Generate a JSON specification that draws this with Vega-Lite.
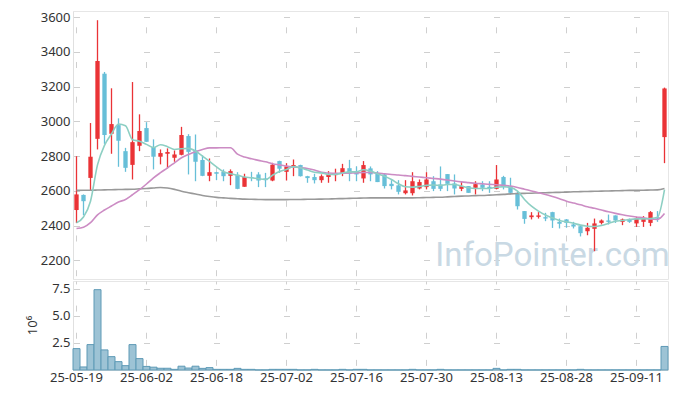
{
  "$schema": "https://vega.github.io/schema/vega-lite/v6.json",
  "autosize": {"type": "pad"},
  "padding": {"left": 25, "top": 10, "right": 10, "bottom": 13},
  "background": "white",
  "spacing": 0,
  "config": {
    "view": {"stroke": "#e6e6e6"},
    "font": "Noto Sans",
    "axis": {"labelFont": "Noto Sans", "labelFontSize": 13, "labelColor": "#333333", "titleFont": "Noto Sans", "labelOverlap": false}
  },
  "datasets": {
    "k": [
      {"d":"25-05-19","o":2490,"h":2800,"l":2415,"c":2580,"v":1.97,"m5":2417,"m20":2384,"m60":2603},
      {"d":"25-05-20","o":2577,"h":2580,"l":2460,"c":2541,"v":0.28,"m5":2450,"m20":2391,"m60":2604},
      {"d":"25-05-21","o":2675,"h":2991,"l":2603,"c":2797,"v":2.34,"m5":2541,"m20":2417,"m60":2604},
      {"d":"25-05-22","o":2900,"h":3583,"l":2839,"c":3348,"v":7.4,"m5":2750,"m20":2462,"m60":2605},
      {"d":"25-05-23","o":3275,"h":3285,"l":2871,"c":2922,"v":1.85,"m5":2862,"m20":2490,"m60":2606},
      {"d":"25-05-26","o":2929,"h":3191,"l":2814,"c":2985,"v":1.23,"m5":2928,"m20":2513,"m60":2607},
      {"d":"25-05-27","o":2979,"h":3018,"l":2739,"c":2889,"v":0.77,"m5":2985,"m20":2536,"m60":2608},
      {"d":"25-05-28","o":2829,"h":2848,"l":2710,"c":2733,"v":0.40,"m5":2975,"m20":2551,"m60":2609},
      {"d":"25-05-29","o":2750,"h":3227,"l":2666,"c":2881,"v":2.34,"m5":2895,"m20":2578,"m60":2610},
      {"d":"25-05-30","o":2860,"h":3041,"l":2829,"c":2945,"v":1.05,"m5":2886,"m20":2607,"m60":2612},
      {"d":"25-06-02","o":2962,"h":2996,"l":2883,"c":2883,"v":0.33,"m5":2868,"m20":2640,"m60":2614},
      {"d":"25-06-04","o":2852,"h":2897,"l":2724,"c":2797,"v":0.26,"m5":2850,"m20":2675,"m60":2617},
      {"d":"25-06-05","o":2797,"h":2839,"l":2753,"c":2818,"v":0.16,"m5":2866,"m20":2705,"m60":2620},
      {"d":"25-06-09","o":2814,"h":2845,"l":2730,"c":2824,"v":0.16,"m5":2855,"m20":2733,"m60":2617},
      {"d":"25-06-10","o":2791,"h":2833,"l":2768,"c":2810,"v":0.06,"m5":2839,"m20":2762,"m60":2609},
      {"d":"25-06-11","o":2808,"h":2969,"l":2805,"c":2922,"v":0.35,"m5":2843,"m20":2791,"m60":2598},
      {"d":"25-06-12","o":2916,"h":2927,"l":2695,"c":2825,"v":0.18,"m5":2845,"m20":2810,"m60":2590},
      {"d":"25-06-13","o":2833,"h":2925,"l":2656,"c":2768,"v":0.35,"m5":2830,"m20":2826,"m60":2582},
      {"d":"25-06-16","o":2778,"h":2805,"l":2685,"c":2687,"v":0.15,"m5":2800,"m20":2839,"m60":2574},
      {"d":"25-06-17","o":2687,"h":2787,"l":2656,"c":2708,"v":0.22,"m5":2770,"m20":2848,"m60":2568},
      {"d":"25-06-18","o":2708,"h":2710,"l":2662,"c":2699,"v":0.06,"m5":2738,"m20":2848,"m60":2563},
      {"d":"25-06-19","o":2710,"h":2724,"l":2656,"c":2685,"v":0.06,"m5":2710,"m20":2849,"m60":2560},
      {"d":"25-06-20","o":2687,"h":2724,"l":2633,"c":2714,"v":0.06,"m5":2699,"m20":2849,"m60":2557},
      {"d":"25-06-23","o":2691,"h":2708,"l":2610,"c":2612,"v":0.15,"m5":2691,"m20":2812,"m60":2555},
      {"d":"25-06-24","o":2624,"h":2699,"l":2624,"c":2680,"v":0.06,"m5":2680,"m20":2795,"m60":2553},
      {"d":"25-06-25","o":2680,"h":2710,"l":2656,"c":2676,"v":0.06,"m5":2676,"m20":2785,"m60":2552},
      {"d":"25-06-26","o":2695,"h":2708,"l":2622,"c":2660,"v":0.01,"m5":2670,"m20":2776,"m60":2551},
      {"d":"25-06-27","o":2672,"h":2704,"l":2622,"c":2662,"v":0.01,"m5":2666,"m20":2768,"m60":2550},
      {"d":"25-06-30","o":2660,"h":2762,"l":2656,"c":2751,"v":0.06,"m5":2690,"m20":2757,"m60":2550},
      {"d":"25-07-01","o":2772,"h":2774,"l":2704,"c":2728,"v":0.06,"m5":2712,"m20":2750,"m60":2550},
      {"d":"25-07-02","o":2710,"h":2760,"l":2660,"c":2741,"v":0.06,"m5":2724,"m20":2743,"m60":2550},
      {"d":"25-07-03","o":2739,"h":2781,"l":2685,"c":2749,"v":0.06,"m5":2740,"m20":2738,"m60":2551},
      {"d":"25-07-04","o":2749,"h":2751,"l":2683,"c":2685,"v":0.01,"m5":2733,"m20":2734,"m60":2551},
      {"d":"25-07-07","o":2685,"h":2687,"l":2647,"c":2674,"v":0.01,"m5":2720,"m20":2729,"m60":2552},
      {"d":"25-07-08","o":2680,"h":2699,"l":2643,"c":2662,"v":0.06,"m5":2708,"m20":2720,"m60":2552},
      {"d":"25-07-09","o":2662,"h":2695,"l":2647,"c":2685,"v":0.01,"m5":2704,"m20":2707,"m60":2553},
      {"d":"25-07-10","o":2680,"h":2714,"l":2647,"c":2697,"v":0.01,"m5":2695,"m20":2703,"m60":2554},
      {"d":"25-07-11","o":2691,"h":2728,"l":2656,"c":2703,"v":0.01,"m5":2695,"m20":2701,"m60":2555},
      {"d":"25-07-14","o":2699,"h":2756,"l":2685,"c":2731,"v":0.06,"m5":2703,"m20":2702,"m60":2556},
      {"d":"25-07-15","o":2731,"h":2779,"l":2656,"c":2699,"v":0.01,"m5":2710,"m20":2703,"m60":2557},
      {"d":"25-07-16","o":2710,"h":2741,"l":2656,"c":2695,"v":0.06,"m5":2710,"m20":2704,"m60":2558},
      {"d":"25-07-17","o":2672,"h":2772,"l":2647,"c":2749,"v":0.06,"m5":2722,"m20":2706,"m60":2559},
      {"d":"25-07-18","o":2730,"h":2741,"l":2656,"c":2695,"v":0.01,"m5":2714,"m20":2706,"m60":2560},
      {"d":"25-07-21","o":2703,"h":2714,"l":2651,"c":2651,"v":0.01,"m5":2699,"m20":2703,"m60":2560},
      {"d":"25-07-22","o":2695,"h":2699,"l":2614,"c":2628,"v":0.01,"m5":2685,"m20":2699,"m60":2560},
      {"d":"25-07-23","o":2641,"h":2662,"l":2609,"c":2628,"v":0.01,"m5":2666,"m20":2695,"m60":2560},
      {"d":"25-07-24","o":2632,"h":2662,"l":2580,"c":2595,"v":0.01,"m5":2641,"m20":2692,"m60":2560},
      {"d":"25-07-25","o":2587,"h":2662,"l":2580,"c":2603,"v":0.01,"m5":2624,"m20":2688,"m60":2560},
      {"d":"25-07-28","o":2587,"h":2708,"l":2574,"c":2656,"v":0.06,"m5":2622,"m20":2684,"m60":2560},
      {"d":"25-07-29","o":2614,"h":2666,"l":2609,"c":2651,"v":0.01,"m5":2626,"m20":2680,"m60":2561},
      {"d":"25-07-30","o":2622,"h":2708,"l":2609,"c":2666,"v":0.01,"m5":2632,"m20":2676,"m60":2562},
      {"d":"25-07-31","o":2656,"h":2685,"l":2599,"c":2612,"v":0.01,"m5":2634,"m20":2672,"m60":2563},
      {"d":"25-08-01","o":2637,"h":2741,"l":2599,"c":2612,"v":0.06,"m5":2632,"m20":2668,"m60":2564},
      {"d":"25-08-04","o":2697,"h":2697,"l":2599,"c":2641,"v":0.01,"m5":2637,"m20":2663,"m60":2566},
      {"d":"25-08-05","o":2643,"h":2695,"l":2580,"c":2614,"v":0.01,"m5":2637,"m20":2657,"m60":2568},
      {"d":"25-08-06","o":2612,"h":2656,"l":2599,"c":2628,"v":0.01,"m5":2628,"m20":2652,"m60":2570},
      {"d":"25-08-07","o":2628,"h":2628,"l":2589,"c":2589,"v":0.01,"m5":2618,"m20":2648,"m60":2571},
      {"d":"25-08-08","o":2618,"h":2656,"l":2580,"c":2639,"v":0.01,"m5":2614,"m20":2644,"m60":2573},
      {"d":"25-08-11","o":2637,"h":2656,"l":2599,"c":2618,"v":0.01,"m5":2614,"m20":2641,"m60":2574},
      {"d":"25-08-12","o":2624,"h":2656,"l":2589,"c":2614,"v":0.01,"m5":2614,"m20":2638,"m60":2576},
      {"d":"25-08-13","o":2612,"h":2749,"l":2609,"c":2666,"v":0.15,"m5":2622,"m20":2636,"m60":2578},
      {"d":"25-08-14","o":2680,"h":2687,"l":2609,"c":2622,"v":0.01,"m5":2624,"m20":2632,"m60":2580},
      {"d":"25-08-18","o":2628,"h":2676,"l":2580,"c":2589,"v":0.06,"m5":2620,"m20":2628,"m60":2583},
      {"d":"25-08-19","o":2589,"h":2595,"l":2493,"c":2512,"v":0.06,"m5":2599,"m20":2620,"m60":2585},
      {"d":"25-08-20","o":2484,"h":2484,"l":2411,"c":2439,"v":0.01,"m5":2551,"m20":2610,"m60":2586},
      {"d":"25-08-21","o":2449,"h":2478,"l":2436,"c":2459,"v":0.01,"m5":2512,"m20":2600,"m60":2587},
      {"d":"25-08-22","o":2451,"h":2478,"l":2441,"c":2459,"v":0.01,"m5":2484,"m20":2590,"m60":2589},
      {"d":"25-08-25","o":2449,"h":2474,"l":2426,"c":2441,"v":0.01,"m5":2461,"m20":2580,"m60":2590},
      {"d":"25-08-26","o":2478,"h":2480,"l":2387,"c":2430,"v":0.01,"m5":2445,"m20":2568,"m60":2591},
      {"d":"25-08-27","o":2422,"h":2441,"l":2384,"c":2411,"v":0.01,"m5":2430,"m20":2555,"m60":2592},
      {"d":"25-08-28","o":2436,"h":2438,"l":2388,"c":2416,"v":0.01,"m5":2422,"m20":2541,"m60":2593},
      {"d":"25-08-29","o":2407,"h":2422,"l":2384,"c":2395,"v":0.01,"m5":2414,"m20":2530,"m60":2595},
      {"d":"25-09-01","o":2397,"h":2399,"l":2338,"c":2357,"v":0.06,"m5":2403,"m20":2520,"m60":2596},
      {"d":"25-09-02","o":2368,"h":2416,"l":2345,"c":2388,"v":0.01,"m5":2397,"m20":2509,"m60":2597},
      {"d":"25-09-03","o":2382,"h":2441,"l":2253,"c":2413,"v":0.01,"m5":2395,"m20":2500,"m60":2598},
      {"d":"25-09-04","o":2416,"h":2436,"l":2407,"c":2430,"v":0.01,"m5":2401,"m20":2490,"m60":2599},
      {"d":"25-09-05","o":2430,"h":2464,"l":2407,"c":2422,"v":0.01,"m5":2413,"m20":2480,"m60":2600},
      {"d":"25-09-08","o":2459,"h":2459,"l":2416,"c":2430,"v":0.01,"m5":2426,"m20":2471,"m60":2601},
      {"d":"25-09-09","o":2422,"h":2441,"l":2403,"c":2436,"v":0.01,"m5":2430,"m20":2463,"m60":2602},
      {"d":"25-09-10","o":2439,"h":2441,"l":2416,"c":2422,"v":0.01,"m5":2436,"m20":2456,"m60":2603},
      {"d":"25-09-11","o":2413,"h":2451,"l":2393,"c":2441,"v":0.01,"m5":2439,"m20":2450,"m60":2603},
      {"d":"25-09-12","o":2422,"h":2455,"l":2393,"c":2441,"v":0.01,"m5":2439,"m20":2445,"m60":2604},
      {"d":"25-09-15","o":2416,"h":2484,"l":2397,"c":2478,"v":0.01,"m5":2441,"m20":2438,"m60":2605},
      {"d":"25-09-16","o":2449,"h":2484,"l":2422,"c":2441,"v":0.01,"m5":2449,"m20":2436,"m60":2606},
      {"d":"25-09-17","o":2910,"h":3195,"l":2760,"c":3190,"v":2.17,"m5":2608,"m20":2470,"m60":2614}
    ],
    "wm": [{"d":"25-08-26","p":2228,"t":"InfoPointer.com"}]
  },
  "vconcat": [
    {
      "width": 595,
      "height": 268,
      "encoding": {
        "x": {
          "field": "d", "type": "ordinal", "bandPosition": 0.5,
          "scale": {"paddingInner": 0, "paddingOuter": 0},
          "axis": {
            "title": null, "labels": false, "ticks": false, "domain": false,
            "bandPosition": 0.5,
            "values": ["25-05-19","25-06-02","25-06-18","25-07-02","25-07-16","25-07-30","25-08-13","25-08-28","25-09-11"],
            "grid": true, "gridColor": "#cfcfcf", "gridDash": [6, 28.7], "gridDashOffset": 18.9
          }
        }
      },
      "layer": [
        {
          "data": {"name": "wm"},
          "mark": {"type": "text", "font": "Roboto", "fontSize": 33, "fontWeight": 400, "color": "#c9d9e4", "align": "center", "baseline": "middle"},
          "encoding": {
            "y": {
              "field": "p", "type": "quantitative",
              "scale": {"domain": [2093, 3636], "nice": false, "zero": false},
              "axis": {
                "title": null, "values": [2200,2400,2600,2800,3000,3200,3400,3600], "format": "d",
                "labelOverlap": false, "tickCount": 8,
                "ticks": false, "domainColor": "#e0e0e0", "labelPadding": 3,
                "grid": true, "gridColor": "#cfcfcf", "gridDash": [6, 64], "gridDashOffset": 69.5
              }
            },
            "text": {"field": "t"}
          }
        },
        {
          "data": {"name": "k"},
          "mark": {"type": "rule", "strokeWidth": 1.3},
          "encoding": {
            "y": {"field": "l", "type": "quantitative"},
            "y2": {"field": "h"},
            "color": {"condition": {"test": "datum.c >= datum.o", "value": "#ea3336"}, "value": "#67bfd8"}
          }
        },
        {
          "data": {"name": "k"},
          "mark": {"type": "bar", "width": {"band": 0.62}},
          "encoding": {
            "y": {"field": "o", "type": "quantitative"},
            "y2": {"field": "c"},
            "color": {"condition": {"test": "datum.c >= datum.o", "value": "#ea3336"}, "value": "#67bfd8"}
          }
        },
        {
          "data": {"name": "k"},
          "mark": {"type": "line", "color": "#999999", "strokeWidth": 1.6, "interpolate": "monotone"},
          "encoding": {"y": {"field": "m60", "type": "quantitative"}}
        },
        {
          "data": {"name": "k"},
          "mark": {"type": "line", "color": "#cc8cc4", "strokeWidth": 1.6, "interpolate": "monotone"},
          "encoding": {"y": {"field": "m20", "type": "quantitative"}}
        },
        {
          "data": {"name": "k"},
          "mark": {"type": "line", "color": "#8dcfc3", "strokeWidth": 1.6, "interpolate": "monotone"},
          "encoding": {"y": {"field": "m5", "type": "quantitative"}}
        }
      ]
    },
    {
      "width": 595,
      "height": 89,
      "data": {"name": "k"},
      "mark": {"type": "bar", "fill": "#9dc3d5", "stroke": "#5e9ab6", "strokeWidth": 1},
      "encoding": {
        "x": {
          "field": "d", "type": "ordinal",
          "scale": {"paddingInner": 0, "paddingOuter": 0},
          "axis": {
            "title": null, "labelAngle": 0, "ticks": false, "domainColor": "#e0e0e0", "labelPadding": 1,
            "bandPosition": 0.5,
            "values": ["25-05-19","25-06-02","25-06-18","25-07-02","25-07-16","25-07-30","25-08-13","25-08-28","25-09-11"],
            "grid": true, "gridColor": "#cfcfcf", "gridDash": [6, 21.13], "gridDashOffset": 3.03
          }
        },
        "y": {
          "field": "v", "type": "quantitative",
          "scale": {"domain": [0, 8.2], "nice": false},
          "axis": {
            "title": "10⁶", "titleFontSize": 13, "titleFontWeight": "normal", "titleColor": "#333333",
            "titleX": -41, "titleY": 44, "titleAngle": -90, "titleAlign": "center", "titleBaseline": "middle",
            "values": [2.5, 5, 7.5], "format": ".1f",
            "ticks": false, "domainColor": "#e0e0e0", "labelPadding": 3,
            "grid": true, "gridColor": "#cfcfcf", "gridDash": [6, 64], "gridDashOffset": 69.5
          }
        }
      }
    }
  ]
}
